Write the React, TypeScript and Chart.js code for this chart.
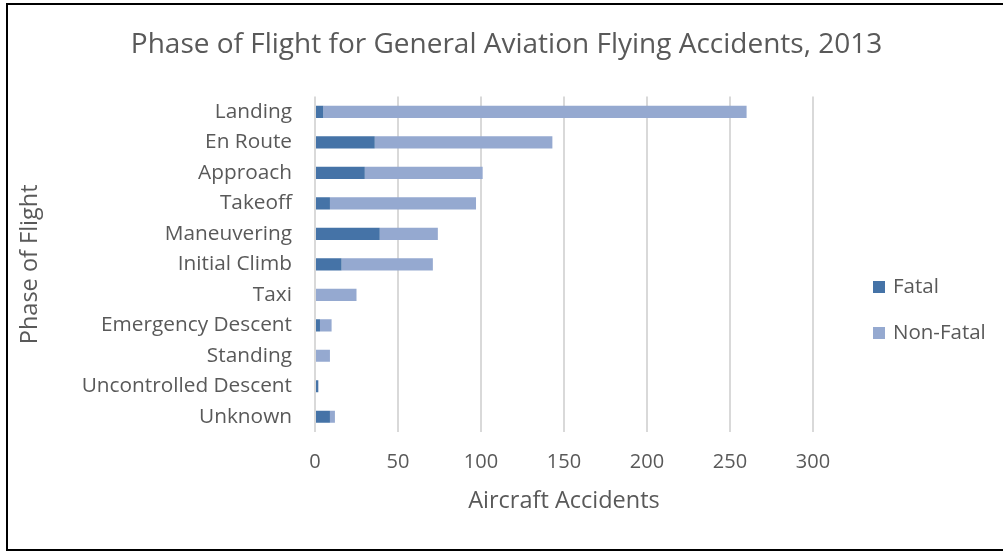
import React, { useEffect, useRef } from "react";
import { Chart, registerables } from "chart.js";

Chart.register(...registerables);

const categories = [
  "Landing",
  "En Route",
  "Approach",
  "Takeoff",
  "Maneuvering",
  "Initial Climb",
  "Taxi",
  "Emergency Descent",
  "Standing",
  "Uncontrolled Descent",
  "Unknown",
];

const fatal = [5, 36, 30, 9, 39, 16, 0, 3, 0, 2, 9];
const nonFatal = [255, 107, 71, 88, 35, 55, 25, 7, 9, 0, 3];

const seriesNames = ["Fatal", "Non-Fatal"];
const seriesColors = ["#4573A7", "#95A9D0"];
const xTicks = [0, 50, 100, 150, 200, 250, 300];

const FONT = "'Open Sans', 'Liberation Sans', sans-serif";
const TEXT = "#595959";

const legendPlugin = {
  id: "sideLegend",
  afterDraw(chart: any) {
    const { ctx, chartArea } = chart;
    const x = chartArea.right + 60;
    const midY = 305;
    const gap = 46;
    const ds = chart.data.datasets;
    ctx.save();
    ctx.font = `20.5px ${FONT}`;
    ctx.textBaseline = "middle";
    ctx.textAlign = "left";
    ds.forEach((d: any, i: number) => {
      const y = midY + (i - (ds.length - 1) / 2) * gap;
      ctx.fillStyle = d.backgroundColor;
      ctx.fillRect(x, y - 6, 12, 12);
      ctx.fillStyle = TEXT;
      ctx.fillText(d.label, x + 20, y);
    });
    ctx.restore();
  },
};

export default function App() {
  const ref = useRef<HTMLCanvasElement | null>(null);

  useEffect(() => {
    document.body.style.margin = "0";
    const ctx = ref.current!;
    const chart = new Chart(ctx, {
      type: "bar",
      data: {
        labels: categories,
        datasets: [
          {
            label: seriesNames[0],
            data: fatal,
            backgroundColor: seriesColors[0],
            barPercentage: 0.4,
            categoryPercentage: 1,
          },
          {
            label: seriesNames[1],
            data: nonFatal,
            backgroundColor: seriesColors[1],
            barPercentage: 0.4,
            categoryPercentage: 1,
          },
        ],
      },
      plugins: [legendPlugin],
      options: {
        indexAxis: "y",
        animation: false,
        responsive: false,
        maintainAspectRatio: false,
        layout: { padding: 0 },
        plugins: {
          title: {
            display: true,
            text: "Phase of Flight for General Aviation Flying Accidents, 2013",
            color: TEXT,
            font: { family: FONT, size: 28, weight: "normal" },
            padding: { top: 23, bottom: 35 },
          },
          legend: { display: false },
          tooltip: { enabled: false },
        },
        scales: {
          x: {
            stacked: true,
            min: 0,
            max: 300,
            afterBuildTicks: (axis: any) => {
              axis.ticks = xTicks.map((v) => ({ value: v }));
            },
            afterFit: (axis: any) => {
              axis.height = 117;
            },
            grid: { color: "#d9d9d9", lineWidth: 2, drawTicks: false },
            border: { display: false },
            ticks: {
              color: TEXT,
              font: { family: FONT, size: 20 },
              padding: 18,
            },
            title: {
              display: true,
              text: "Aircraft Accidents",
              color: TEXT,
              font: { family: FONT, size: 23.5 },
              padding: { top: 0, bottom: 34 },
            },
          },
          y: {
            stacked: true,
            afterFit: (axis: any) => {
              axis.width = 307;
            },
            grid: { display: false, drawTicks: false },
            border: { display: false },
            ticks: {
              color: TEXT,
              font: { family: FONT, size: 20.8 },
              padding: 23,
            },
            title: {
              display: true,
              text: "Phase of Flight",
              color: TEXT,
              font: { family: FONT, size: 23.5 },
              padding: { top: 8, bottom: 0 },
            },
          },
          yRight: {
            type: "category",
            position: "right",
            display: true,
            afterFit: (axis: any) => {
              axis.width = 192;
            },
            grid: { display: false, drawTicks: false },
            border: { display: false },
            ticks: { display: false },
          },
        },
      },
    });
    return () => chart.destroy();
  }, []);

  return (
    <div
      style={{
        position: "absolute",
        left: 6,
        top: 3,
        width: 1001,
        height: 548,
        border: "2px solid #000",
        boxSizing: "border-box",
        background: "#fff",
      }}
    >
      <canvas ref={ref} width={997} height={544} style={{ display: "block" }} />
    </div>
  );
}
